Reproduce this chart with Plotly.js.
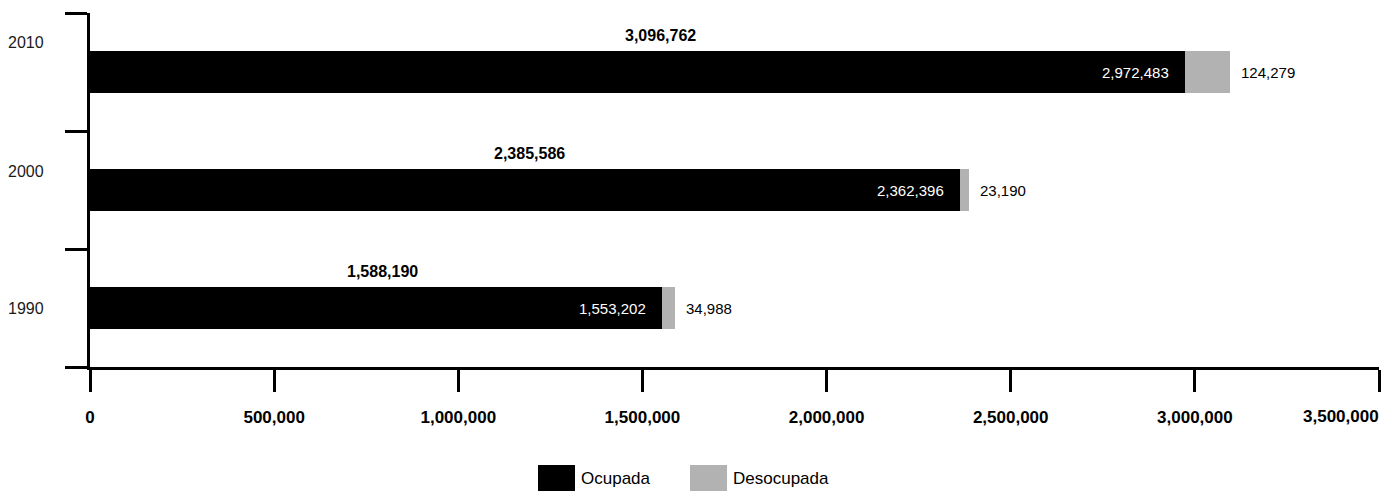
<!DOCTYPE html>
<html><head><meta charset="utf-8">
<script src="https://cdn.plot.ly/plotly-3.0.1.min.js"></script>
<style>html,body{margin:0;padding:0;background:#fff}</style>
</head><body><div id="chart" style="width:1383px;height:491px"></div>
<script>
// ---- data ----
const years = ['1990', '2000', '2010'];
const seriesNames = ['Ocupada', 'Desocupada'];
const ocupada = [1553202, 2362396, 2972483];
const desocupada = [34988, 23190, 124279];
const totals = [1588190, 2385586, 3096762];
const xTickValues = [0, 500000, 1000000, 1500000, 2000000, 2500000, 3000000, 3500000];

// ---- style ----
const FONT = '"Liberation Sans Narrow", "Arial Narrow", "Liberation Sans", Arial, sans-serif';
const colors = ['#000000', '#b2b2b2'];
const W = 1383, H = 491;
const M = {l: 90, r: 4, t: 13, b: 124};
const pw = W - M.l - M.r, ph = H - M.t - M.b;
const px2x = x => (x - M.l) / pw;
const px2y = y => (H - M.b - y) / ph;
const fmt = v => v.toLocaleString('en-US');
const yearShift = [0, 19, 30];

const traces = [
  {type: 'bar', orientation: 'h', name: seriesNames[0], y: years, x: ocupada,
   marker: {color: colors[0], line: {width: 0}}, hoverinfo: 'x+y'},
  {type: 'bar', orientation: 'h', name: seriesNames[1], y: years, x: desocupada,
   marker: {color: colors[1], line: {width: 0}}, hoverinfo: 'x+y'}
];

const annotations = [];
years.forEach((yr, i) => {
  // category axis: position annotations by category index
  annotations.push({xref: 'paper', yref: 'y', x: 0, y: i, xanchor: 'right', yanchor: 'middle',
    xshift: -44, yshift: yearShift[i], text: yr, showarrow: false,
    font: {family: FONT, size: 16, color: '#1a1a1a'}});
  annotations.push({xref: 'x', yref: 'y', x: totals[i] / 2, y: i, xanchor: 'center', yanchor: 'middle',
    yshift: 37, text: '<b>' + fmt(totals[i]) + '</b>', showarrow: false,
    font: {family: FONT, size: 16, color: '#000'}});
  annotations.push({xref: 'x', yref: 'y', x: ocupada[i], y: i, xanchor: 'right', yanchor: 'middle',
    xshift: -14, text: fmt(ocupada[i]), showarrow: false,
    font: {family: FONT, size: 15, color: '#ffffff'}});
  annotations.push({xref: 'x', yref: 'y', x: totals[i], y: i, xanchor: 'left', yanchor: 'middle',
    xshift: 9, text: fmt(desocupada[i]), showarrow: false,
    font: {family: FONT, size: 15, color: '#000'}});
});
// last x tick label, kept inside the page
const lastTick = xTickValues[xTickValues.length - 1];
annotations.push({xref: 'x', yref: 'paper', x: lastTick, y: px2y(416), xanchor: 'right', yanchor: 'middle',
  xshift: 2, text: '<b>' + fmt(lastTick) + '</b>', showarrow: false, font: {family: FONT, size: 17, color: '#000'}});

// legend drawn with shapes + text
const shapes = [];
const legBoxes = [[538, 575], [690, 727]];
seriesNames.forEach((n, i) => {
  shapes.push({type: 'rect', xref: 'paper', yref: 'paper',
    x0: px2x(legBoxes[i][0]), x1: px2x(legBoxes[i][1]), y0: px2y(491), y1: px2y(465),
    fillcolor: colors[i], line: {width: 0}});
  annotations.push({xref: 'paper', yref: 'paper', x: px2x(legBoxes[i][1] + 4), y: px2y(478),
    xanchor: 'left', yanchor: 'middle', text: n, showarrow: false,
    font: {family: FONT, size: 17, color: '#000'}});
});

const layout = {
  width: W, height: H,
  margin: {l: M.l, r: M.r, t: M.t, b: M.b, pad: 0},
  paper_bgcolor: '#fff', plot_bgcolor: '#fff',
  barmode: 'stack', bargap: 0.636,
  showlegend: false,
  font: {family: FONT, color: '#000'},
  xaxis: {
    range: [0, lastTick], tickvals: xTickValues,
    ticktext: xTickValues.map((v, i) => i === xTickValues.length - 1 ? '' : '<b>' + fmt(v) + '</b>'),
    ticks: 'outside', ticklen: 22, tickwidth: 3, tickcolor: '#000',
    ticklabelstandoff: 11,
    showline: true, linewidth: 3, linecolor: '#000',
    showgrid: false, zeroline: false, fixedrange: true,
    tickfont: {family: FONT, size: 17, color: '#000'},
    automargin: false
  },
  yaxis: {
    type: 'category', categoryarray: years, range: [-0.5, 2.5],
    ticks: 'outside', tickson: 'boundaries', ticklen: 22, tickwidth: 3, tickcolor: '#000',
    showline: true, linewidth: 3, linecolor: '#000',
    showgrid: false, zeroline: false, showticklabels: false, fixedrange: true,
    automargin: false
  },
  annotations: annotations,
  shapes: shapes
};

Plotly.newPlot('chart', traces, layout, {displayModeBar: false, staticPlot: true});
</script>
</body></html>
